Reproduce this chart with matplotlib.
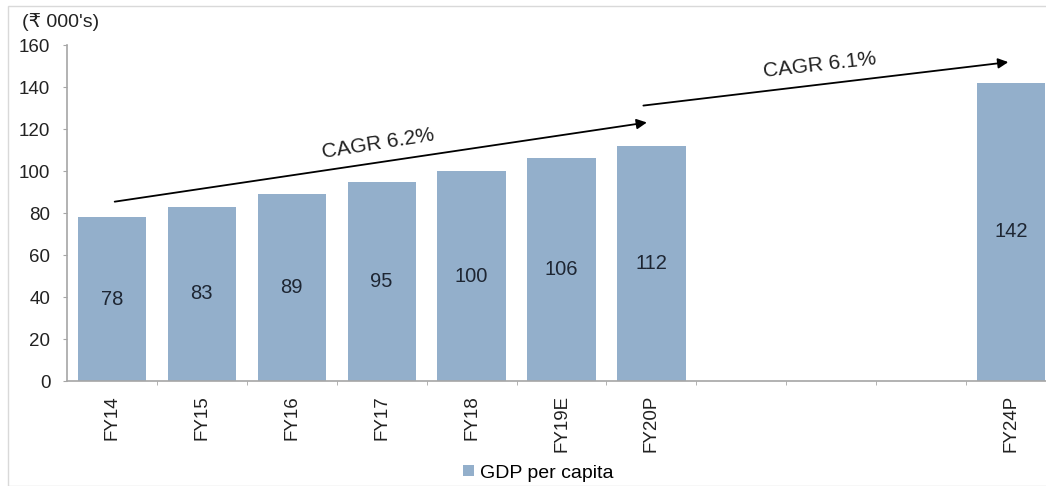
import matplotlib.pyplot as plt
from matplotlib.patches import Rectangle

plt.rcParams['font.family'] = ['Liberation Sans', 'DejaVu Sans']

categories = ["FY14", "FY15", "FY16", "FY17", "FY18", "FY19E", "FY20P", "", "", "", "FY24P"]
gdp = [78, 83, 89, 95, 100, 106, 112, None, None, None, 142]
yticks = [0, 20, 40, 60, 80, 100, 120, 140, 160]

bar_color = "#93AFCB"
axis_grey = "#A6A6A6"
text_col = "#222222"

fig = plt.figure(figsize=(10.46, 4.86), dpi=100)
W, H = 1046, 486
# axes: x from 67 px to 1056 px (runs past the right edge), y from 381 px (0) to 45 px (160)
ax = fig.add_axes([67 / W, (H - 381) / H, (1056 - 67) / W, (381 - 45) / H])

xs = [i for i, v in enumerate(gdp) if v is not None]
vals = [v for v in gdp if v is not None]
bars = ax.bar(xs, vals, width=0.76, color=bar_color, label="GDP per capita", zorder=2)
for x, v in zip(xs, vals):
    ax.text(x, v / 2, f"{v}", ha="center", va="center", fontsize=14.5, color="#1E2633", zorder=3)

ax.set_xlim(-0.5, len(categories) - 0.5)
ax.set_ylim(0, 160)
ax.set_yticks(yticks)
ax.tick_params(axis="y", labelsize=13.5, length=3, color=axis_grey, labelcolor=text_col, pad=9)

ax.set_xticks(range(len(categories)))
ax.set_xticklabels(categories, rotation=90, fontsize=13.5, color=text_col)
ax.tick_params(axis="x", which="major", length=0, pad=10)
ax.set_xticks([i + 0.5 for i in range(len(categories) - 1)], minor=True)
ax.tick_params(axis="x", which="minor", length=3, color=axis_grey)

for s in ["top", "right"]:
    ax.spines[s].set_visible(False)
for s in ["left", "bottom"]:
    ax.spines[s].set_color(axis_grey)
    ax.spines[s].set_linewidth(1.2)

# CAGR arrows
ax.annotate("", xy=(5.98, 123.3), xytext=(0.0, 85.2),
            arrowprops=dict(arrowstyle="-|>", color="black", lw=1.3, mutation_scale=15), zorder=4)
ax.annotate("", xy=(10.0, 152), xytext=(5.88, 131),
            arrowprops=dict(arrowstyle="-|>", color="black", lw=1.3, mutation_scale=15), zorder=4)
ax.text(2.96, 112.9, "CAGR 6.2%", fontsize=15, rotation=9, ha="center", va="center", color=text_col)
ax.text(7.87, 150.5, "CAGR 6.1%", fontsize=15, rotation=6.5, ha="center", va="center", color=text_col)

fig.text(22 / W, 1 - 22 / H, "(₹ 000's)", fontsize=14, ha="left", va="center", color=text_col)

fig.legend(handles=[bars], labels=["GDP per capita"], loc="center", bbox_to_anchor=(538 / W, 1 - 473 / H),
           frameon=False, fontsize=14, handlelength=0.55, handleheight=0.55, handletextpad=0.3)

# thin outer border
fig.patches.append(Rectangle((8 / W, 0), 1, 1 - 6 / H, transform=fig.transFigure,
                             fill=False, edgecolor="#D9D9D9", lw=1))

fig.savefig("out.png", dpi=100)
